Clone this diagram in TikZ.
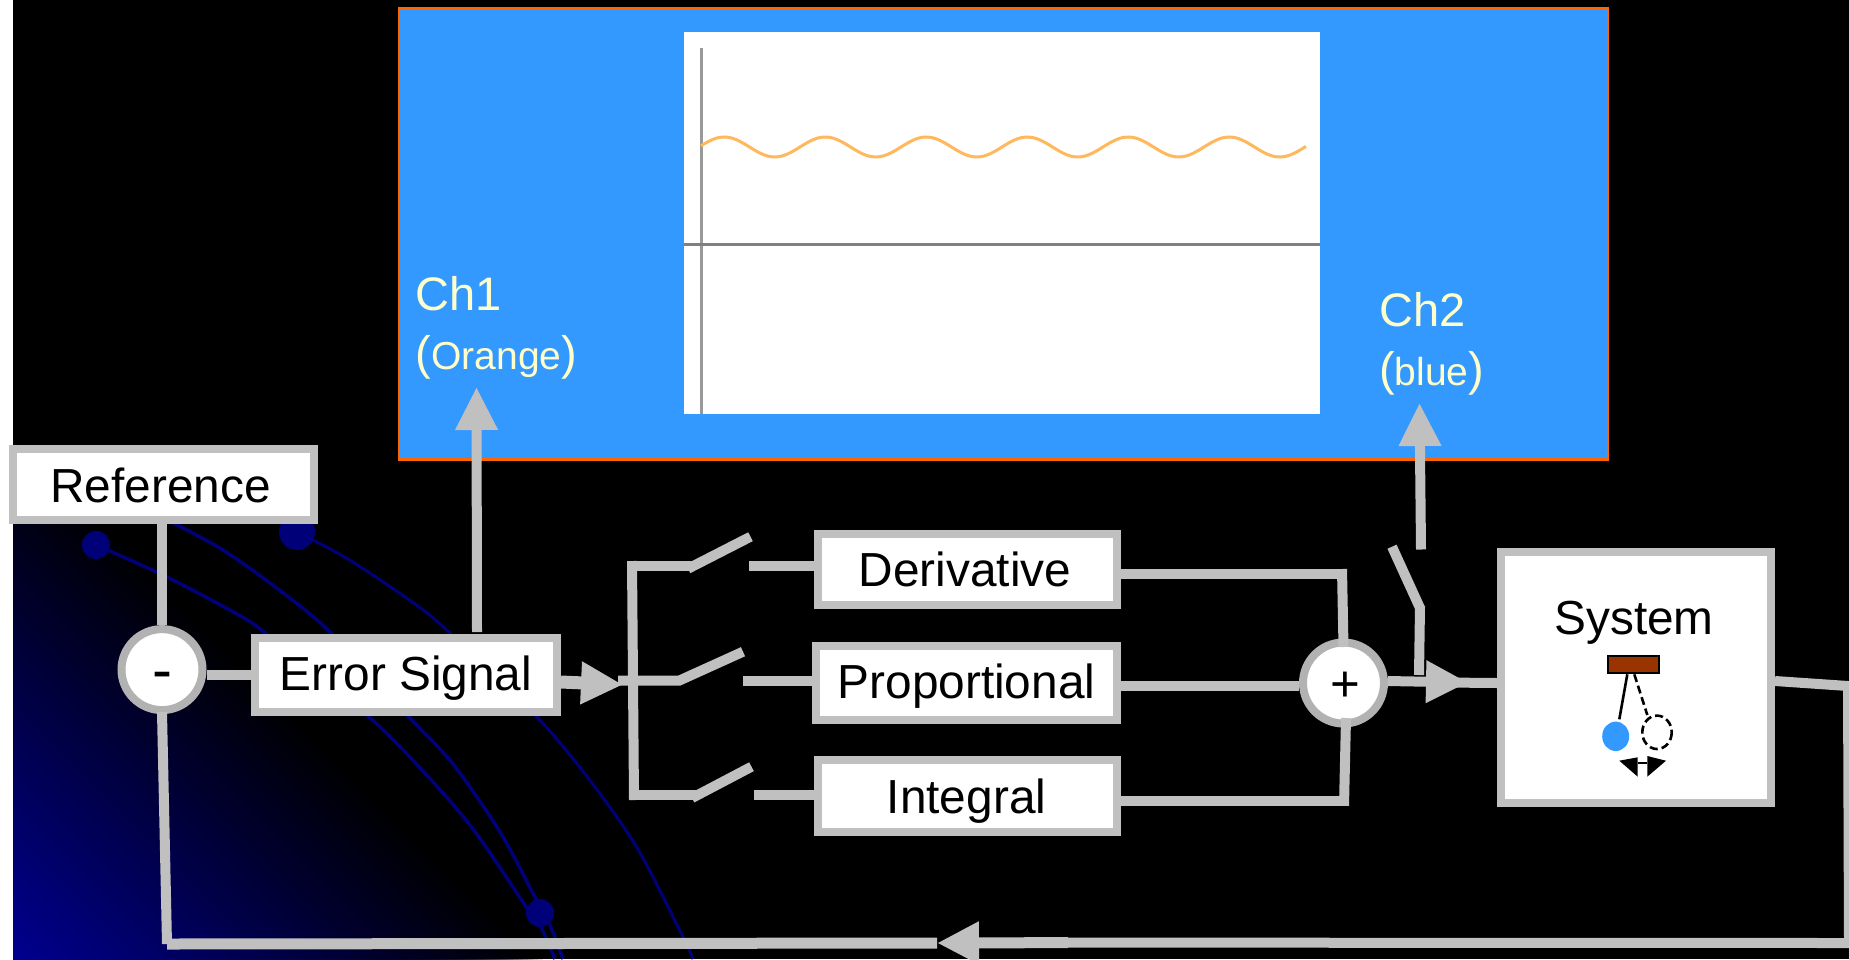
\documentclass[tikz,border=0pt]{standalone}
\usepackage{fontspec}
\setmainfont{Liberation Sans}
\usetikzlibrary{arrows.meta,calc}
\definecolor{boxgray}{HTML}{C0C0C0}
\definecolor{ringgray}{HTML}{B2B2B2}
\definecolor{panelblue}{HTML}{3399FF}
\definecolor{paneledge}{HTML}{FF6600}
\definecolor{navyblue}{HTML}{000090}
\definecolor{curveblue}{HTML}{000078}
\definecolor{labelcream}{HTML}{FFFFCC}
\definecolor{rodbrown}{HTML}{993300}
\definecolor{waveorange}{HTML}{FFB85C}
\tikzset{
  txt/.style={font=\fontsize{47.8}{47.8}\selectfont,text=black},
  blockbox/.style={draw=boxgray,line width=8pt,fill=white,rectangle,inner sep=0pt,txt,align=center},
  sumring/.style={draw=ringgray,line width=8pt,fill=white,circle,inner sep=0pt,minimum size=81pt,txt},
  gl/.style={draw=boxgray,line width=10pt,line cap=butt,line join=miter},
  glt/.style={gl,line width=11pt},
  headv/.style={-{Triangle[length=43pt,width=40pt]}},
  headh/.style={-{Triangle[length=42pt,width=40pt]}},
  curve/.style={draw=curveblue,line width=3.5pt},
  bead/.style={fill=curveblue},
  chlabel/.style={anchor=base west,inner sep=0pt,text=labelcream,font=\fontsize{47}{47}\selectfont},
  pend/.style={draw=black,line width=2.6pt},
  penddash/.style={pend,dash pattern=on 8pt off 4pt},
}
\begin{document}
\begin{tikzpicture}[x=1pt,y=-1pt]
\useasboundingbox (0,0) rectangle (1849,959);
\fill[white] (0,0) rectangle (1849,959);
\fill[black] (13,0) rectangle (1849,959);
% corner gradient
\foreach \d in {530,525,...,5}{
  \pgfmathsetmacro{\pc}{100*(1-\d/530)}
  \fill[navyblue!\pc!black] (13,959) -- ({13+\d},959) -- (13,{959-\d}) -- cycle;
}
% blue curves and beads
\draw[curve] plot[smooth] coordinates {(96,545) (165,576) (237,614) (268,635) (368,716) (422,770) (473,829) (527,908) (540,925) (555,959)};
\draw[curve] plot[smooth] coordinates {(160,516) (223,550) (286,595) (332,634) (408,716) (453,764) (500,832) (536,899) (550,925) (563,959)};
\draw[curve,line width=3pt] plot[smooth] coordinates {(297,532) (348,559) (415,604) (451,634) (536,716) (585,774) (636,846) (683,937) (693,959)};
\fill[bead] (96,545) circle (14);
\fill[bead] (297,532) circle (18);
\fill[bead] (540,913) circle (14);
% scope panel
\node[draw=paneledge,fill=panelblue,line width=2.6pt,rectangle,inner sep=0pt,minimum width=1209pt,minimum height=451pt] (panel) at (1003.5,233.7) {};
\node[fill=white,rectangle,inner sep=0pt,minimum width=636pt,minimum height=382pt] (plot) at (1002,223) {};
\draw[gray!80,line width=3pt] (701,48) -- (701,414);
\draw[gray,line width=3pt] (plot.west |- 0,244) -- (plot.east |- 0,244);
\draw[waveorange,line width=3pt] plot[domain=701:1306,samples=140,smooth] (\x,{147-10*sin(3.5644*(\x-699))});
\node[chlabel] (ch1) at (415.5,310) {Ch1};
\node[chlabel] (ch1b) at (415.5,369) {(\fontsize{39}{39}\selectfont Orange\fontsize{47}{47}\selectfont)};
\node[chlabel] (ch2) at (1379,326) {Ch2};
\node[chlabel] (ch2b) at (1379,385) {(\fontsize{39}{39}\selectfont blue\fontsize{47}{47}\selectfont)};
% blocks
\node[blockbox,minimum width=301pt,minimum height=71pt,text height=35pt,text depth=0pt] (ref) at (163.5,484.5) {\hspace*{-6pt}Reference};
\node[blockbox,minimum width=302pt,minimum height=74pt,text height=30pt,text depth=0pt] (err) at (406,675) {Error Signal};
\node[blockbox,minimum width=299pt,minimum height=71.5pt,text height=34pt,text depth=0pt] (der) at (967.5,569.7) {\hspace*{-5pt}Derivative};
\node[blockbox,minimum width=301pt,minimum height=74pt,text height=30pt,text depth=0pt] (pro) at (966.5,683) {Proportional};
\node[blockbox,minimum width=299pt,minimum height=72.5pt,text height=34pt,text depth=0pt] (int) at (967.5,796.2) {\hspace*{-2pt}Integral};
\node[blockbox,minimum width=270pt,minimum height=250.5pt] (sys) at (1636,677.7) {};
\node[txt,anchor=base,inner sep=0pt] (systxt) at (1634,634) {System};
\node[sumring,text height=42pt,text depth=0pt,font=\fontsize{60}{60}\selectfont] (sub) at (162,669.6) {-};
\node[sumring,text height=36pt,text depth=0pt,font=\fontsize{51}{51}\selectfont] (add) at (1343.5,683) {\hspace*{4pt}+};
% named way points
\coordinate (ch1tip) at (476.5,387);
\coordinate (ch1foot) at (477,632);
\coordinate (ch2tip) at (1419.5,403);
\coordinate (ch2foot) at (1421,549.5);
\coordinate (fbtop) at (162,712);
\coordinate (fbcorner) at (167,944);
\coordinate (fbhead) at (937,943);
\coordinate (fbjoin) at (1068,942.6);
\coordinate (outcorner) at (1848,686);
\coordinate (outbottom) at (1849,943);
\coordinate (bustop) at (632,561);
\coordinate (busbot) at (634,800);
\coordinate (busD) at (627,565.7);
\coordinate (hingeD) at (693,565.7);
\coordinate (bladeD) at (750.5,536.7);
\coordinate (stubD) at (749,566);
\coordinate (busP) at (618,680.7);
\coordinate (hingeP) at (679,680.7);
\coordinate (bladeP) at (743,651.7);
\coordinate (stubP) at (743,680.7);
\coordinate (busI) at (629,795);
\coordinate (hingeI) at (697,795);
\coordinate (bladeI) at (751.5,766.7);
\coordinate (stubI) at (754,795);
\coordinate (errhead) at (623,684.7);
\coordinate (derbend) at (1342,574);
\coordinate (intbend) at (1344,800.7);
\coordinate (addhead) at (1468,682.5);
\coordinate (addmid) at (1445,682.5);
\coordinate (ch2hinge) at (1420,606);
\coordinate (ch2blade) at (1392,546.7);
\coordinate (ch2tap) at (1419,675);
% connectors
\draw[gl] (ref.south -| sub) -- (sub.north);
\draw[gl] (sub.east |- 0,675) -- (err.west |- 0,675);
\draw[gl,headv] (ch1foot) -- (ch1tip);
\draw[gl,line width=13pt,headh] (err.east |- 0,682) -- (errhead);
\draw[gl] (busP) -- (hingeP) -- (bladeP);
\draw[gl] (stubP) -- (stubP -| pro.west);
\draw[gl] (bustop) -- (busbot);
\draw[gl] (busD) -- (hingeD);
\draw[gl] (hingeD) ++(-5,3) -- (bladeD);
\draw[gl] (stubD) -- (stubD -| der.west);
\draw[gl] (busI) -- (hingeI);
\draw[gl] (hingeI) ++(-5,3) -- (bladeI);
\draw[gl] (stubI) -- (stubI -| int.west);
\draw[gl] (der.east |- derbend) -- ++(226,0);
\draw[gl] (derbend) ++(0,-5) -- (1343.5,647);
\draw[gl] (pro.east |- 0,686) -- (add.west |- 0,686);
\draw[gl] (int.east |- intbend) -- ++(228,0);
\draw[gl] (intbend) ++(0,5) -- (1346,718);
\draw[gl] (addmid) -- (sys.west |- 0,683);
\draw[gl,headh] (add.east |- 0,681) -- (addhead);
\draw[gl] (ch2tap) -- (ch2hinge) ++(0,2) -- (ch2blade);
\draw[gl,headv] (ch2foot) -- (ch2tip);
\draw[gl] (sys.east |- 0,681) -- (outcorner) -- (outbottom) -- (fbjoin);
\draw[glt,headh] (fbjoin) -- (fbhead);
\draw[glt] (fbhead) -- (fbcorner);
\draw[gl] (fbtop) -- (fbcorner);
% pendulum
\node[draw=black,fill=rodbrown,line width=2.6pt,rectangle,inner sep=0pt,minimum width=51pt,minimum height=17pt] (rod) at (1633.4,664.5) {};
\coordinate (bobfoot) at (1619.3,719.3);
\coordinate (ghostfoot) at (1647.3,715);
\draw[pend] (rod.south -| 1627.3,0) -- (bobfoot);
\draw[penddash] (rod.south -| 1634.3,0) -- (ghostfoot);
\fill[panelblue] (1615.7,736.3) ellipse (13.5 and 14.7);
\draw[penddash] (1657,732.3) ellipse (14.7 and 16.7);
\fill[black] (1619.3,760.7) -- (1637.7,757.3) -- (1637.7,776.7) -- cycle;
\fill[black] (1666,760.7) -- (1647.3,756) -- (1647.3,776.7) -- cycle;
\draw[black,line width=2pt] (1637.7,763) -- (1647.3,763);
\end{tikzpicture}
\end{document}
